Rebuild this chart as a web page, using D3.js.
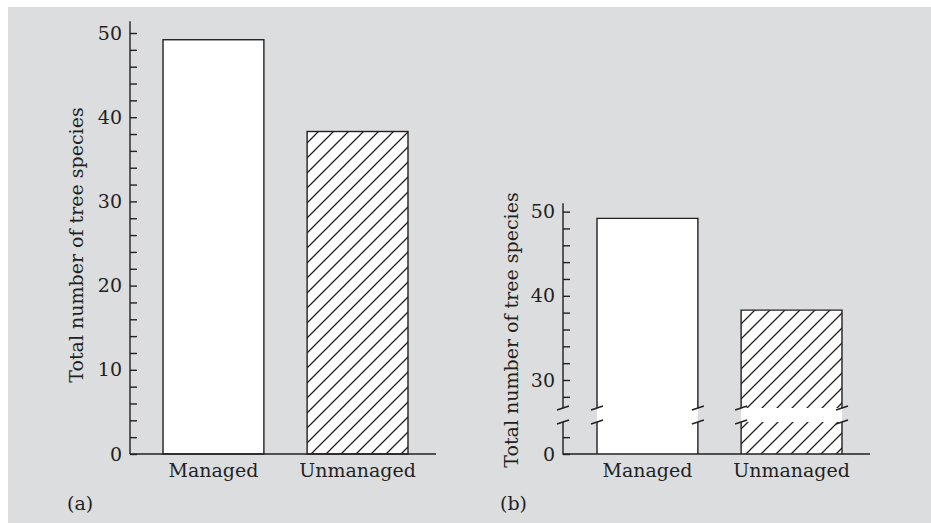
<!DOCTYPE html>
<html>
<head>
<meta charset="utf-8">
<script src="https://cdn.jsdelivr.net/npm/d3@7"></script>
<style>
    body { margin: 0; background: #fff; }
    text { font-family: "DejaVu Serif", serif; fill: #231f20; }
</style>
</head>
<body>
<div id="chart"></div>
<script>
// data
const categories = ["Managed", "Unmanaged"];
const speciesCount = [49.2, 38.3];
const hatched = [false, true];
const tickLabelsA = [0, 10, 20, 30, 40, 50];
const tickLabelsB = [0, 30, 40, 50];
const panelLabels = ["(a)", "(b)"];
const yTitle = "Total number of tree species";

const W = 931, H = 523;
const ink = "#231f20";
const unit = 8.42; // px per species

const svg = d3.select("#chart").append("svg")
    .attr("width", W)
    .attr("height", H);

svg.append("rect")
    .attr("x", 8).attr("y", 7)
    .attr("width", W - 8).attr("height", H - 7)
    .attr("fill", "#dcdddf");

svg.append("defs").append("pattern")
    .attr("id", "hatch")
    .attr("patternUnits", "userSpaceOnUse")
    .attr("width", 15).attr("height", 15)
    .call(p => {
        p.append("rect").attr("width", 15).attr("height", 15).attr("fill", "#fff");
        p.append("path")
            .attr("d", "M-2,17 L17,-2 M-2,2 L2,-2 M13,17 L17,13")
            .attr("stroke", ink)
            .attr("stroke-width", 1.3);
    });

const baseY = 454;

function makeX(offset) {
    return d3.scaleBand()
        .domain(categories)
        .range([141.4 + offset, 429.6 + offset])
        .paddingInner(0.3)
        .paddingOuter(0.15);
}

function minorTicks(maxV, minV) {
    return d3.range(minV, maxV + 1, 2);
}

function styleAxis(g) {
    g.select(".domain").remove();
    g.selectAll(".tick line").attr("stroke", ink).attr("stroke-width", 1.4);
    g.selectAll(".tick text")
        .style("font-family", "DejaVu Serif, serif")
        .style("font-size", "19px")
        .attr("fill", ink);
}

// ---------- panel (a) ----------
const axA = 130;
const xA = makeX(0);
const yA = d3.scaleLinear().domain([0, 50]).range([baseY, baseY - 50 * unit]);

const gA = svg.append("g");

gA.selectAll(".bar")
    .data(categories)
    .enter().append("rect")
    .attr("class", "bar")
    .attr("x", d => xA(d))
    .attr("width", xA.bandwidth())
    .attr("y", (d, i) => yA(speciesCount[i]))
    .attr("height", (d, i) => baseY - yA(speciesCount[i]))
    .attr("fill", (d, i) => hatched[i] ? "url(#hatch)" : "#fff")
    .attr("stroke", ink)
    .attr("stroke-width", 1.4);

gA.append("g")
    .attr("transform", `translate(${axA},0)`)
    .call(d3.axisLeft(yA)
        .tickValues(minorTicks(50, 0))
        .tickSize(-7)
        .tickPadding(8)
        .tickFormat(d => tickLabelsA.includes(d) ? d : ""))
    .call(styleAxis);

gA.append("line")
    .attr("x1", axA).attr("x2", axA)
    .attr("y1", yA(51.4)).attr("y2", baseY)
    .attr("stroke", ink).attr("stroke-width", 1.4);

gA.append("line")
    .attr("x1", axA).attr("x2", 436)
    .attr("y1", baseY).attr("y2", baseY)
    .attr("stroke", ink).attr("stroke-width", 1.4);

gA.selectAll(".cat")
    .data(categories)
    .enter().append("text")
    .attr("x", d => xA(d) + xA.bandwidth() / 2)
    .attr("y", 477)
    .attr("text-anchor", "middle")
    .style("font-size", "19px")
    .text(d => d);

gA.append("text")
    .attr("transform", "translate(83,245) rotate(-90)")
    .attr("text-anchor", "middle")
    .style("font-size", "19px")
    .text(yTitle);

gA.append("text")
    .attr("x", 67).attr("y", 510)
    .style("font-size", "19px")
    .text(panelLabels[0]);

// ---------- panel (b) ----------
const axB = 563;
const xB = makeX(434);
const yBUp = d3.scaleLinear().domain([30, 50]).range([380, 380 - 20 * unit]);
const yBLow = d3.scaleLinear().domain([0, 50]).range([baseY, baseY - 50 * unit]);
const breakTop = 408, breakBot = 422;

const gB = svg.append("g");

categories.forEach((c, i) => {
    const x0 = xB(c), x1 = x0 + xB.bandwidth();
    const top = yBUp(speciesCount[i]);
    const fill = hatched[i] ? "url(#hatch)" : "#fff";
    gB.append("rect")
        .attr("x", x0).attr("y", top)
        .attr("width", x1 - x0).attr("height", breakTop - top)
        .attr("fill", fill);
    gB.append("rect")
        .attr("x", x0).attr("y", breakTop)
        .attr("width", x1 - x0).attr("height", breakBot - breakTop)
        .attr("fill", "#fff");
    gB.append("rect")
        .attr("x", x0).attr("y", breakBot)
        .attr("width", x1 - x0).attr("height", baseY - breakBot)
        .attr("fill", fill);
    gB.append("path")
        .attr("d", `M${x0},${breakTop}V${top}H${x1}V${breakTop}M${x0},${breakBot}V${baseY}M${x1},${breakBot}V${baseY}`)
        .attr("fill", "none")
        .attr("stroke", ink)
        .attr("stroke-width", 1.4);
});

gB.append("g")
    .attr("transform", `translate(${axB},0)`)
    .call(d3.axisLeft(yBUp)
        .tickValues(minorTicks(50, 28))
        .tickSize(-7)
        .tickPadding(8)
        .tickFormat(d => tickLabelsB.includes(d) ? d : ""))
    .call(styleAxis);

gB.append("g")
    .attr("transform", `translate(${axB},0)`)
    .call(d3.axisLeft(yBLow)
        .tickValues([0, 2])
        .tickSize(-7)
        .tickPadding(8)
        .tickFormat(d => tickLabelsB.includes(d) ? d : ""))
    .call(styleAxis);

gB.append("path")
    .attr("d", `M${axB},${yBUp(51)}V${breakTop}M${axB},${breakBot}V${baseY}H870`)
    .attr("fill", "none")
    .attr("stroke", ink)
    .attr("stroke-width", 1.4);

// break marks on the axis and bar edges
const breakXs = [axB];
categories.forEach(c => { breakXs.push(xB(c), xB(c) + xB.bandwidth()); });
[breakTop, breakBot].forEach(by => {
    gB.selectAll(null)
        .data(breakXs)
        .enter().append("line")
        .attr("x1", d => d - 6).attr("y1", by + 2)
        .attr("x2", d => d + 6).attr("y2", by - 2)
        .attr("stroke", ink)
        .attr("stroke-width", 1.4);
});

gB.selectAll(".cat")
    .data(categories)
    .enter().append("text")
    .attr("x", d => xB(d) + xB.bandwidth() / 2)
    .attr("y", 477)
    .attr("text-anchor", "middle")
    .style("font-size", "19px")
    .text(d => d);

gB.append("text")
    .attr("transform", "translate(518,330) rotate(-90)")
    .attr("text-anchor", "middle")
    .style("font-size", "19px")
    .text(yTitle);

gB.append("text")
    .attr("x", 500).attr("y", 510)
    .style("font-size", "19px")
    .text(panelLabels[1]);
</script>
</body>
</html>
